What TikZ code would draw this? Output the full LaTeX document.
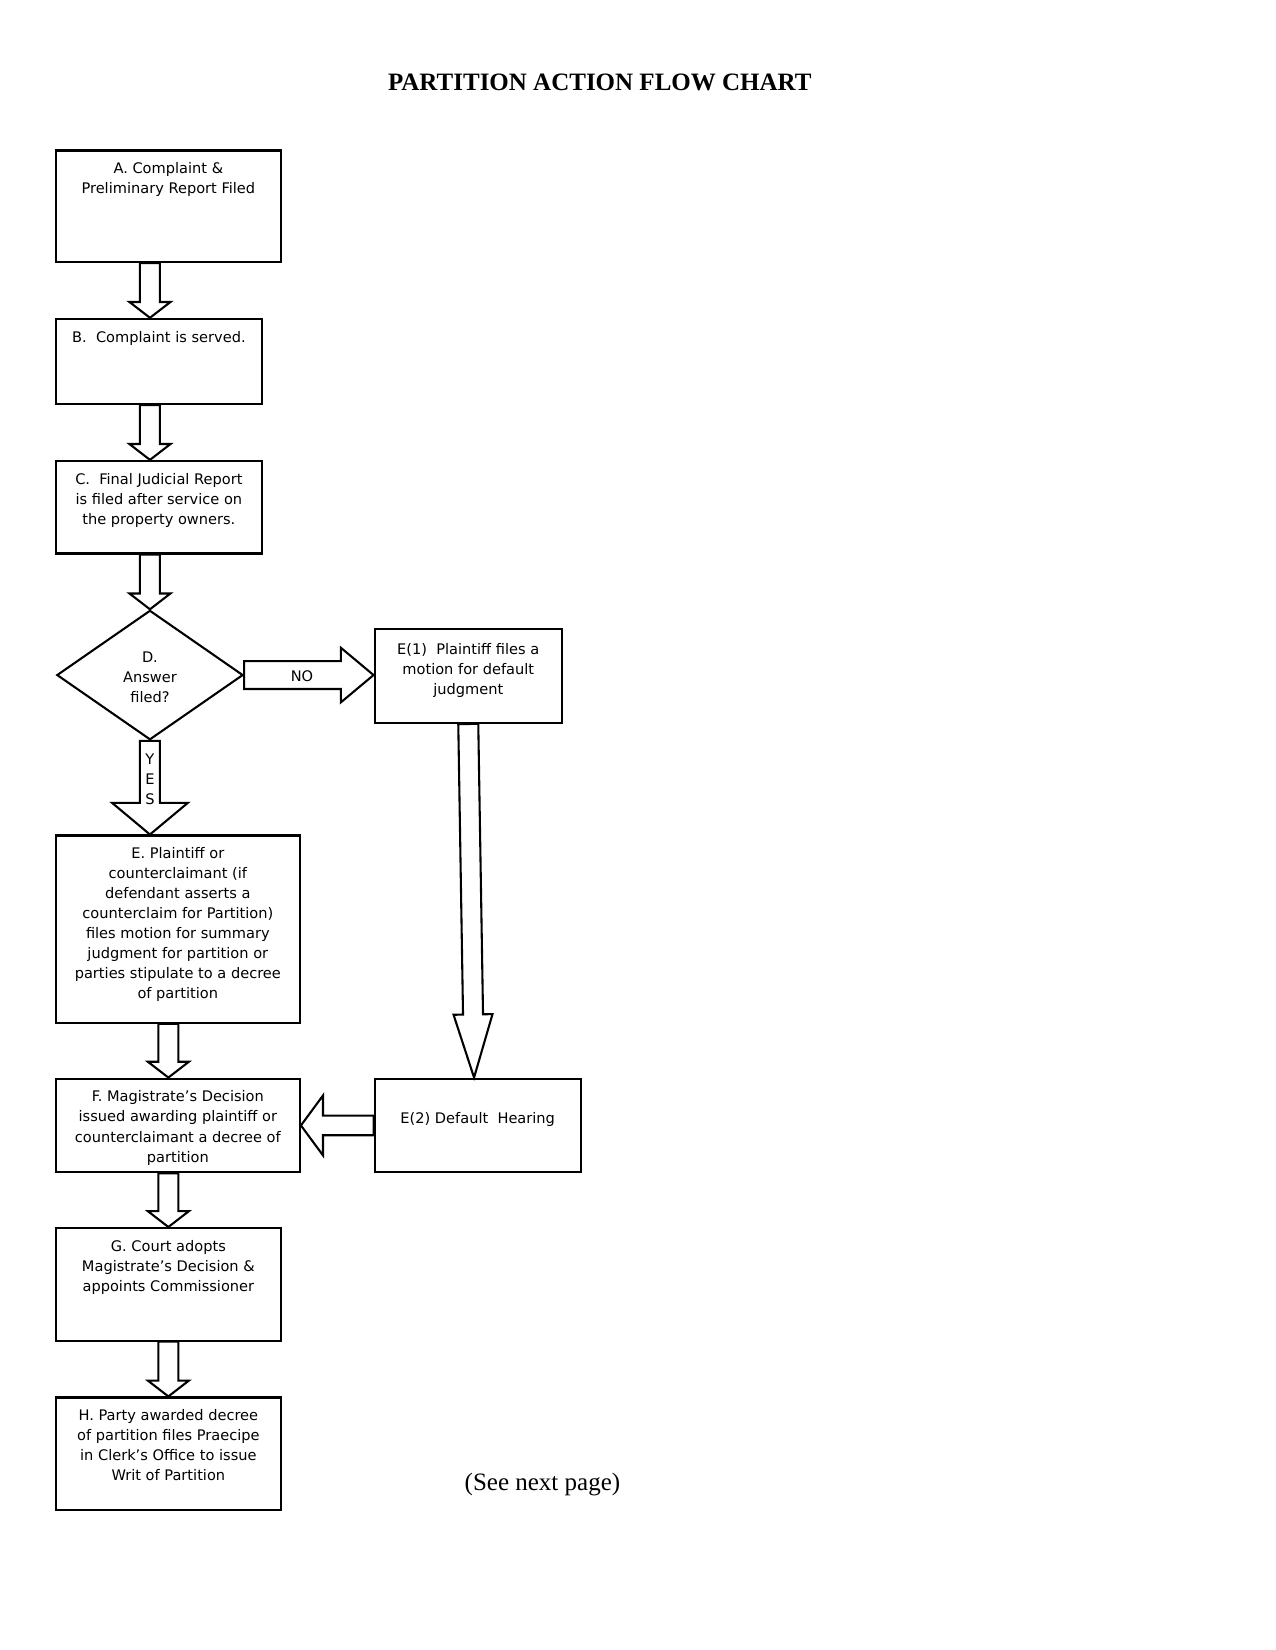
\documentclass[tikz,border=0pt]{standalone}
\usepackage{fontspec}
\setmainfont{Liberation Serif}
\newfontfamily\boxfont{DejaVu Sans}
\usetikzlibrary{calc,positioning,shapes.geometric}

\begin{document}
\begin{tikzpicture}[
  x=0.505pt, y=-0.505pt,
  every node/.style={inner sep=0pt},
  boxsize/.style 2 args={minimum width=#1*0.505pt, minimum height=#2*0.505pt},
  stepbox/.style={rectangle, draw, line width=1pt},
  steptext/.style={anchor=north, align=center, font=\boxfont\fontsize{7}{9.6}\selectfont},
  decision/.style={diamond, draw, line width=1pt},
  lbl/.style={align=center, font=\boxfont\fontsize{7}{9.6}\selectfont},
  heading/.style={font=\fontsize{12}{14}\selectfont\bfseries},
  note/.style={font=\fontsize{12}{14}\selectfont},
  blockarrow/.style n args={3}{draw, line width=1pt, fill=white, line join=miter,
    to path={($(\tikztotarget)!#3!(\tikztostart)$) coordinate (hb)
      ($(\tikztostart)!#1!-90:(\tikztotarget)$) -- ($(hb)!#1!-90:(\tikztotarget)$)
      -- ($(hb)!#2!-90:(\tikztotarget)$) -- (\tikztotarget)
      -- ($(hb)!#2!90:(\tikztotarget)$) -- ($(hb)!#1!90:(\tikztotarget)$)
      -- ($(\tikztostart)!#1!90:(\tikztotarget)$) -- cycle}},
  stdarrow/.style={blockarrow={4.8pt}{9.85pt}{7.6pt}},
]
\useasboundingbox (0,0) rectangle (1212,1568);

\node[heading] (title) at (570,78) {PARTITION ACTION FLOW CHART};

% left column
\node[stepbox, boxsize={214}{106}] (a) at (160,196) {};
\node[steptext, below=6.2pt of a.north] (atxt) {A. Complaint \&\\Preliminary Report Filed};

\node[stepbox, boxsize={196}{81}] (b) at (151,343.5) {};
\node[steptext, below=6.2pt of b.north] (btxt) {B.~~Complaint is served.};

\node[stepbox, boxsize={196}{88}] (c) at (151,482) {};
\node[steptext, below=6.2pt of c.north] (ctxt) {C.~~Final Judicial Report\\is filed after service on\\the property owners.};

\node[decision, boxsize={177}{123}] (d) at (142.5,641.5) {};
\node[lbl] (dtxt) at ($(d.center)+(0,2.5)$) {D.\\Answer\\filed?};

\node[stepbox, boxsize={232}{178}] (e) at (169,883) {};
\node[steptext, below=6.2pt of e.north] (etxt) {E. Plaintiff or\\counterclaimant (if\\defendant asserts a\\counterclaim for Partition)\\files motion for summary\\judgment for partition or\\parties stipulate to a decree\\of partition};

\node[stepbox, boxsize={232}{89}] (f) at (169,1069.5) {};
\node[steptext, below=6.2pt of f.north] (ftxt) {F. Magistrate’s Decision\\issued awarding plaintiff or\\counterclaimant a decree of\\partition};

\node[stepbox, boxsize={214}{107}] (g) at (160,1220.5) {};
\node[steptext, below=6.2pt of g.north] (gtxt) {G. Court adopts\\Magistrate’s Decision \&\\appoints Commissioner};

\node[stepbox, boxsize={214}{107}] (h) at (160,1381.5) {};
\node[steptext, below=6.2pt of h.north] (htxt) {H. Party awarded decree\\of partition files Praecipe\\in Clerk’s Office to issue\\Writ of Partition};

% default branch
\node[stepbox, boxsize={178}{89}] (e1) at (445,642.5) {};
\node[steptext, below=7pt of e1.north] (e1txt) {E(1)~~Plaintiff files a\\motion for default\\judgment};

\node[stepbox, boxsize={196}{89}] (e2) at (454,1069.5) {};
\node[steptext, below=16.5pt of e2.north] (e2txt) {E(2) Default~~Hearing};
\coordinate (e2in) at ($(e2.north)+(-3.5,0)$);

\node[note] (next) at (515.5,1411) {(See next page)};

% arrows
\draw[stdarrow] (a.south -| d.center) to (b.north -| d.center);
\draw[stdarrow] (b.south -| d.center) to (c.north -| d.center);
\draw[stdarrow] (c.south -| d.center) to (d.north);
\draw[blockarrow={4.8pt}{18.2pt}{15.2pt}] (d.south) to (e.north -| d.center);
\draw[blockarrow={6.7pt}{13.1pt}{15.7pt}] (d.east) to (e1.west |- d.east);
\draw[blockarrow={4.8pt}{9.35pt}{30.3pt}] (e1.south) to (e2in);
\draw[blockarrow={4.7pt}{14.4pt}{10.6pt}] (e2.west) to (f.east);
\draw[stdarrow] (e.south -| g.center) to (f.north -| g.center);
\draw[stdarrow] (f.south -| g.center) to (g.north);
\draw[stdarrow] (g.south) to (h.north);

\node[lbl] (yes) at (142.5,741) {Y\\E\\S};
\node[lbl] (no) at (287,642.5) {NO};

\end{tikzpicture}
\end{document}
